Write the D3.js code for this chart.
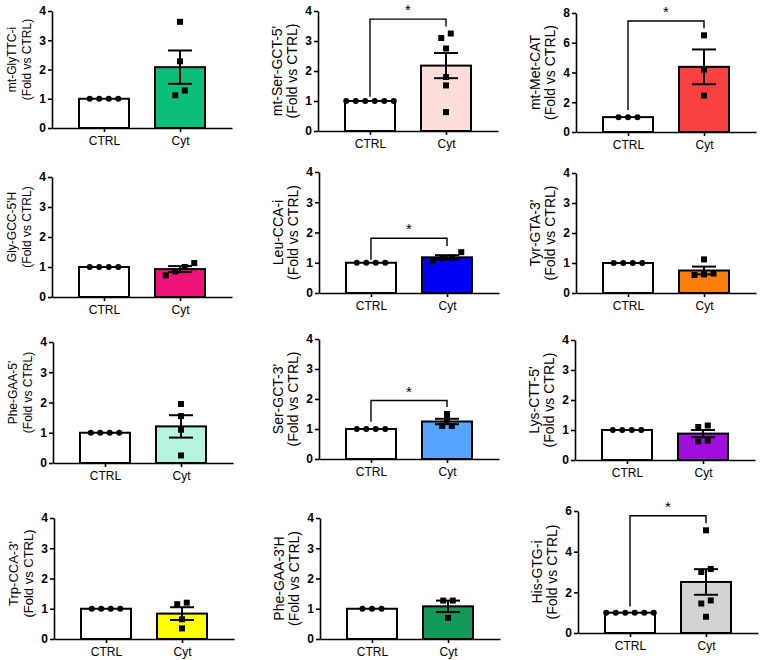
<!DOCTYPE html>
<html>
<head>
<meta charset="utf-8">
<script src="https://cdn.jsdelivr.net/npm/d3@7"></script>
<style>
  html, body { margin: 0; padding: 0; background: #fff; }
  svg { display: block; }
  text { font-family: "Liberation Sans", Arial, sans-serif; }
</style>
</head>
<body>
<svg id="chart" width="762" height="660"></svg>
<script>
// ---------------- data ----------------
const groups = ["CTRL", "Cyt"];
const panelLabels = ["mt-GlyTTC-i", "mt-Ser-GCT-5'", "mt-Met-CAT",
  "Gly-GCC-5'H", "Leu-CCA-i", "Tyr-GTA-3'",
  "Phe-GAA-5'", "Ser-GCT-3'", "Lys-CTT-5'",
  "Trp-CCA-3'", "Phe-GAA-3'H", "His-GTG-i"];
const yLabelSecond = "(Fold vs CTRL)";
const yMaxValues = [4, 4, 8, 4, 4, 4, 4, 4, 4, 4, 4, 6];
const yTickSteps = [1, 1, 2, 1, 1, 1, 1, 1, 1, 1, 1, 2];
const ctrlValues = [
  [1, 1, 1, 1], [1, 1, 1, 1, 1, 1], [1, 1, 1],
  [1, 1, 1, 1], [1, 1, 1, 1], [1, 1, 1, 1],
  [1, 1, 1, 1], [1, 1, 1, 1], [1, 1, 1, 1],
  [1, 1, 1, 1], [1, 1, 1], [1, 1, 1, 1, 1, 1]];
const cytValues = [
  [3.63, 2.28, 1.28, 1.12],
  [3.1, 3.25, 2.75, 1.8, 1.52, 0.63],
  [6.5, 4.2, 2.45],
  [1.0, 1.13, 0.85, 0.72],
  [1.05, 1.35, 1.15, 1.17],
  [0.62, 1.12, 0.6, 0.65],
  [1.95, 1.55, 1.1, 0.25],
  [1.1, 1.5, 1.3, 1.1],
  [0.65, 1.15, 1.1, 0.62],
  [1.15, 1.2, 0.65, 0.35],
  [1.27, 0.7, 1.27],
  [5.05, 3.15, 3.0, 1.6, 1.45, 0.8]];
const cytMeans = [2.08, 2.18, 4.38, 0.93, 1.18, 0.75, 1.21, 1.25, 0.88, 0.84, 1.08, 2.51];
const cytSems = [0.57, 0.42, 1.17, 0.1, 0.07, 0.13, 0.37, 0.09, 0.12, 0.21, 0.19, 0.63];
const cytColors = ["#0cbf78", "#fddcdc", "#f94141", "#f0147a", "#0000f5", "#fd7f0c",
  "#b5f5df", "#55a5ff", "#a00fdc", "#ffff00", "#12995a", "#d3d3d3"];
// significance brackets: [bracket level, left leg end, right leg end] (null = none)
const sigBrackets = [null, [3.73, 1.14, 3.48], [7.46, 1.48, 6.97],
  null, [1.81, 1.1, 1.55], null,
  null, [1.95, 1.24, 1.73], null,
  null, null, [5.77, 1.3, 5.4]];
const sigLabel = "*";

// ---------------- layout ----------------
const axisX = [52, 318, 576, 52, 319, 576, 53, 319, 575, 54, 320, 578];
const axisBottom = [128, 131, 132, 297, 293, 293, 463, 459, 460, 639, 639, 633];
const axisTop = [11, 11, 13, 177, 172, 173, 342, 339, 340, 518, 518, 511];
const labelFont = [12, 14, 14, 12, 14, 14, 12, 14, 14, 13, 14, 14];
const labelShift = [-10, 0, 0, -10, 0, 0, -10, 0, 0, -5, 0, 0];
const axisLen = 180;
const barW = 50;

const svg = d3.select("#chart");

panelLabels.forEach((label, i) => {
  const x0 = axisX[i];
  const g = svg.append("g");
  const x = d3.scalePoint().domain(groups).range([x0, x0 + axisLen]).padding(0.684);
  const y = d3.scaleLinear().domain([0, yMaxValues[i]]).range([axisBottom[i], axisTop[i]]);

  // bars
  const means = [d3.mean(ctrlValues[i]), cytMeans[i]];
  g.selectAll("rect.bar").data(groups).join("rect")
    .attr("x", d => x(d) - barW / 2)
    .attr("width", barW)
    .attr("y", (d, j) => y(means[j]))
    .attr("height", (d, j) => y(0) - y(means[j]))
    .attr("fill", (d, j) => j === 0 ? "#ffffff" : cytColors[i])
    .attr("stroke", "#000").attr("stroke-width", 2);

  // points with simple symmetric spreading of near-equal values
  function spread(vals, cx) {
    const idx = vals.map((v, k) => k).sort((a, b) => vals[b] - vals[a]);
    const out = [];
    let cluster = [];
    const flush = () => {
      const n = cluster.length;
      cluster.sort((a, b) => vals[a] - vals[b]);
      cluster.forEach((k, m) => out.push({ v: vals[k], x: cx + (m - (n - 1) / 2) * 9.5 }));
      cluster = [];
    };
    idx.forEach(k => {
      if (cluster.length && Math.abs(y(vals[cluster[cluster.length - 1]]) - y(vals[k])) > 5.5) flush();
      cluster.push(k);
    });
    flush();
    return out;
  }
  const ctrlPts = spread(ctrlValues[i], x("CTRL"));
  g.selectAll("circle.pt").data(ctrlPts).join("circle")
    .attr("cx", d => d.x).attr("cy", d => y(d.v)).attr("r", 3).attr("fill", "#000");
  const cytPts = spread(cytValues[i], x("Cyt"));
  g.selectAll("rect.pt").data(cytPts).join("rect")
    .attr("x", d => d.x - 3).attr("y", d => y(d.v) - 3)
    .attr("width", 6).attr("height", 6).attr("fill", "#000");

  // error bar (SEM) for Cyt
  const cx = x("Cyt");
  const hi = y(cytMeans[i] + cytSems[i]), lo = y(cytMeans[i] - cytSems[i]);
  g.append("line").attr("x1", cx).attr("x2", cx).attr("y1", hi).attr("y2", lo)
    .attr("stroke", "#000").attr("stroke-width", 2);
  [hi, lo].forEach(yy => g.append("line").attr("x1", cx - 12).attr("x2", cx + 12)
    .attr("y1", yy).attr("y2", yy).attr("stroke", "#000").attr("stroke-width", 2));

  // axes
  const ticks = d3.range(0, yMaxValues[i] + 0.001, yTickSteps[i]);
  const ya = g.append("g").attr("transform", `translate(${x0},0)`)
    .call(d3.axisLeft(y).tickValues(ticks).tickFormat(d3.format("d"))
      .tickSize(4).tickSizeOuter(0).tickPadding(2));
  ya.selectAll("path,line").attr("stroke", "#000").attr("stroke-width", 1.6);
  ya.selectAll("text").attr("font-size", 12).attr("font-weight", "bold").attr("fill", "#000")
    .style("font-family", "'Liberation Sans', Arial, sans-serif");
  const xa = g.append("g").attr("transform", `translate(0,${axisBottom[i]})`)
    .call(d3.axisBottom(x).tickSize(4).tickSizeOuter(0).tickPadding(4));
  xa.selectAll("path,line").attr("stroke", "#000").attr("stroke-width", 1.6);
  xa.selectAll("text").attr("font-size", 12).attr("fill", "#000")
    .style("font-family", "'Liberation Sans', Arial, sans-serif");

  // y label (two lines)
  const cy = (axisTop[i] + axisBottom[i]) / 2 + labelShift[i];
  const fs = labelFont[i];
  [label, yLabelSecond].forEach((t, k) => {
    g.append("text")
      .attr("transform", `translate(${x0 - 36 + k * 15},${cy}) rotate(-90)`)
      .attr("text-anchor", "middle").attr("font-size", fs).attr("fill", "#000").text(t);
  });

  // significance
  const s = sigBrackets[i];
  if (s) {
    const xl = x("CTRL"), xr = x("Cyt");
    g.append("path")
      .attr("d", `M${xl},${y(s[1])}V${y(s[0])}H${xr}V${y(s[2])}`)
      .attr("fill", "none").attr("stroke", "#000").attr("stroke-width", 1.4);
    g.append("text").attr("x", (xl + xr) / 2).attr("y", y(s[0]) - 4)
      .attr("text-anchor", "middle").attr("font-size", 15).attr("fill", "#000").text(sigLabel);
  }
});
</script>
</body>
</html>
